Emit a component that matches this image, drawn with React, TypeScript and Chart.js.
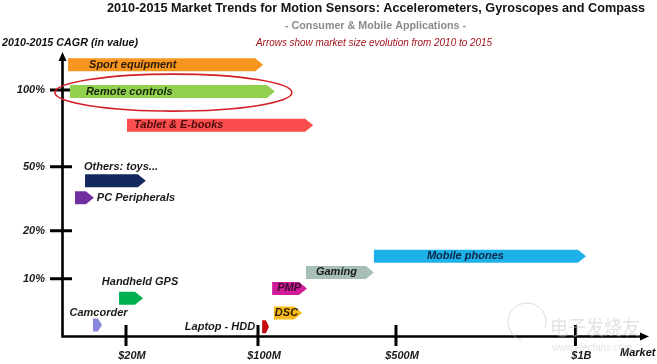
import React, { useEffect, useRef } from 'react';
import { Chart, registerables, LinearScale } from 'chart.js';

Chart.register(...registerables);

// ---------- data ----------
const categories = [
  'Sport equipment', 'Remote controls', 'Tablet & E-books', 'Others: toys...', 'PC Peripherals',
  'Mobile phones', 'Gaming', 'Handheld GPS', 'PMP', 'DSC', 'Camcorder', 'Laptop - HDD',
];
// market size in $M (2010 start -> 2015 end)
const market2010 = [1.6, 2.2, 20.6, 7.0, 3.8, 436, 239, 17.8, 141, 146, 9.5, 112];
const market2015 = [115, 149, 260, 32, 9.8, 1029, 436, 30.3, 242, 228, 12.4, 132];
// 2010-2015 CAGR in %
const cagr = [117, 99, 77, 43.4, 35.5, 14.7, 11.3, 6.6, 8.3, 4.0, 1.9, 1.6];

const xTickValues = [20, 100, 500, 1000];
const xTickLabels = ['$20M', '$100M', '$500M', '$1B'];
const yTickValues = [10, 20, 50, 100];
const yTickLabels = ['10%', '20%', '50%', '100%'];

const barColors = [
  '#f7961e', '#92d050', '#fb4d4d', '#13285c', '#7030a0',
  '#1cb1e8', '#a8bfb7', '#00b050', '#cf1c97', '#f7bb1e', '#8787dc', '#c40d0d',
];
const labelColors = [
  '#2a1a08', '#16260a', '#4a0c0c', '#1a1a1a', '#1a1a1a',
  '#0d2545', '#1a1a1a', '#1a1a1a', '#3a0a30', '#2a1a00', '#1a1a1a', '#1a1a1a',
];
const labelPlacement = ['in', 'in', 'in', 'aboveLeft', 'right', 'in', 'in', 'above', 'in', 'in', 'above', 'left'];
const labelDX = [21, 16, 7, -1, 3, 53, 10, 9, 5, 1, 1, 7];
const labelDY = [0, 0, 0, -14, 0, 0, 0, -16, 0, 0, -12, 0];

// scale break points (value -> fraction of axis)
const BREAKS: Record<string, { v: number[]; d: number[] }> = {
  x: { v: [0, 20, 100, 500, 1000, 1200], d: [0, 0.1077, 0.3333, 0.5692, 0.876, 1] },
  y: { v: [0, 10, 20, 50, 100, 125], d: [0, 0.2025, 0.372, 0.598, 0.869, 1] },
};

const FONT = "'Liberation Sans', Arial, Helvetica, sans-serif";

class PiecewiseScale extends LinearScale {
  static id = 'piecewise';
  static defaults = { ...(LinearScale as any).defaults };
  toDec(value: number) {
    const b = BREAKS[(this as any).axis];
    const { v, d } = b;
    if (value <= v[0]) return d[0];
    for (let i = 1; i < v.length; i++) {
      if (value <= v[i]) return d[i - 1] + ((value - v[i - 1]) / (v[i] - v[i - 1])) * (d[i] - d[i - 1]);
    }
    const n = v.length - 1;
    return d[n] + ((value - v[n]) / (v[n] - v[n - 1])) * (d[n] - d[n - 1]);
  }
  getPixelForValue(value: number) {
    if (value === null || value === undefined || isNaN(value)) return NaN;
    return (this as any).getPixelForDecimal(this.toDec(value));
  }
  getValueForPixel(pixel: number) {
    const dec = (this as any).getDecimalForPixel(pixel);
    const { v, d } = BREAKS[(this as any).axis];
    for (let i = 1; i < d.length; i++) {
      if (dec <= d[i]) return v[i - 1] + ((dec - d[i - 1]) / (d[i] - d[i - 1])) * (v[i] - v[i - 1]);
    }
    return v[v.length - 1];
  }
}
Chart.register(PiecewiseScale as any);

const decorPlugin = {
  id: 'decor',
  beforeDatasetsDraw(chart: any) {
    const ctx = chart.ctx;
    const { left, bottom } = chart.chartArea;
    const xs = chart.scales.x;
    const ys = chart.scales.y;
    ctx.save();
    ctx.strokeStyle = '#000';
    ctx.lineWidth = 3;
    ctx.beginPath();
    yTickValues.forEach((v) => {
      const py = ys.getPixelForValue(v);
      ctx.moveTo(left - 13, py);
      ctx.lineTo(left + 9, py);
    });
    xTickValues.forEach((v) => {
      const px = xs.getPixelForValue(v);
      ctx.moveTo(px, bottom - 11);
      ctx.lineTo(px, bottom + 10);
    });
    ctx.stroke();
    ctx.restore();
  },
  beforeDatasetDraw(chart: any, args: any) {
    const ctx = chart.ctx;
    const meta = args.meta;
    ctx.save();
    meta.data.forEach((el: any, i: number) => {
      const left = Math.min(el.base, el.x);
      const right = Math.max(el.base, el.x);
      const h = el.height;
      const top = el.y - h / 2;
      const bottom = el.y + h / 2;
      const tip = Math.min(8, (right - left) * 0.45);
      ctx.beginPath();
      ctx.moveTo(left, top);
      ctx.lineTo(right - tip, top);
      ctx.lineTo(right, el.y);
      ctx.lineTo(right - tip, bottom);
      ctx.lineTo(left, bottom);
      ctx.closePath();
      ctx.fillStyle = barColors[i];
      ctx.fill();
    });
    // labels
    ctx.font = `italic bold 11px ${FONT}`;
    ctx.textBaseline = 'middle';
    meta.data.forEach((el: any, i: number) => {
      const left = Math.min(el.base, el.x);
      const right = Math.max(el.base, el.x);
      const p = labelPlacement[i];
      ctx.fillStyle = labelColors[i];
      let x = 0;
      const y = el.y + labelDY[i];
      if (p === 'in') { ctx.textAlign = 'left'; x = left + labelDX[i]; }
      else if (p === 'aboveLeft') { ctx.textAlign = 'left'; x = left + labelDX[i]; }
      else if (p === 'above') { ctx.textAlign = 'center'; x = (left + right) / 2 + labelDX[i]; }
      else if (p === 'right') { ctx.textAlign = 'left'; x = right + labelDX[i]; }
      else { ctx.textAlign = 'right'; x = left - labelDX[i]; }
      ctx.fillText(categories[i], x, y);
    });
    ctx.restore();
    return false;
  },
  afterDraw(chart: any) {
    const ctx = chart.ctx;
    const { left, right, top, bottom } = chart.chartArea;
    ctx.save();
    ctx.strokeStyle = '#000';
    ctx.fillStyle = '#000';
    // axes
    ctx.lineWidth = 2.6;
    ctx.beginPath();
    ctx.moveTo(left - 0.5, bottom + 1.5);
    ctx.lineTo(left - 0.5, top + 6);
    ctx.moveTo(left - 1.5, bottom + 0.5);
    ctx.lineTo(right - 6, bottom + 0.5);
    ctx.stroke();
    // arrow heads
    ctx.beginPath();
    ctx.moveTo(left - 0.5, top - 1);
    ctx.lineTo(left - 4.5, top + 8);
    ctx.lineTo(left + 3.5, top + 8);
    ctx.closePath();
    ctx.fill();
    ctx.beginPath();
    ctx.moveTo(right + 1, bottom + 0.5);
    ctx.lineTo(right - 8, bottom - 3.5);
    ctx.lineTo(right - 8, bottom + 4.5);
    ctx.closePath();
    ctx.fill();

    // ellipse around Remote controls
    const meta = chart.getDatasetMeta(0);
    const rc = meta.data[1];
    if (rc) {
      const l = Math.min(rc.base, rc.x) - 15;
      const r = Math.max(rc.base, rc.x) + 17;
      ctx.beginPath();
      ctx.ellipse((l + r) / 2, rc.y + 1, (r - l) / 2, 18.5, 0, 0, Math.PI * 2);
      ctx.strokeStyle = '#d41f26';
      ctx.lineWidth = 1.6;
      ctx.stroke();
    }

    // titles
    ctx.textBaseline = 'middle';
    ctx.textAlign = 'center';
    ctx.fillStyle = '#111';
    ctx.font = `bold 13px ${FONT}`;
    ctx.fillText('2010-2015 Market Trends for Motion Sensors: Accelerometers, Gyroscopes and Compass', 376, 8.5, 538);
    ctx.fillStyle = '#8a8a8a';
    ctx.font = `bold 11px ${FONT}`;
    ctx.fillText('- Consumer & Mobile Applications -', 375.5, 25.5, 181);
    ctx.fillStyle = '#a3141c';
    ctx.font = `italic 11px ${FONT}`;
    ctx.fillText('Arrows show market size evolution from 2010 to 2015', 374, 42.5, 236);
    ctx.textAlign = 'left';
    ctx.fillStyle = '#111';
    ctx.font = `italic bold 11px ${FONT}`;
    ctx.fillText('2010-2015 CAGR (in value)', 2, 43, 136);
    ctx.fillText('Market', 620, 352.5, 36);

    // watermark
    ctx.globalAlpha = 0.5;
    ctx.strokeStyle = '#b8b8b8';
    ctx.lineWidth = 1;
    ctx.beginPath();
    ctx.arc(527, 322, 19, Math.PI * 0.6, Math.PI * 2.1);
    ctx.stroke();
    ctx.fillStyle = '#c8c8c8';
    ctx.font = `20px 'Noto Sans CJK SC', sans-serif`;
    ctx.textAlign = 'left';
    ctx.fillText('电子发烧友', 550, 327, 90);
    ctx.font = `10px ${FONT}`;
    ctx.fillText('www.elecfans.com', 552, 348, 80);
    ctx.restore();
  },
};

export default function App() {
  const ref = useRef<HTMLCanvasElement | null>(null);
  useEffect(() => {
    document.body.style.margin = '0';
    const canvas = ref.current;
    if (!canvas) return;
    const chart = new Chart(canvas, {
      type: 'bar',
      data: {
        labels: categories,
        datasets: [
          {
            label: 'Market size',
            data: categories.map((_, i) => ({ x: [market2010[i], market2015[i]], y: cagr[i] })) as any,
            backgroundColor: barColors,
            barThickness: 13,
          },
        ],
      },
      options: {
        indexAxis: 'y',
        animation: false,
        responsive: false,
        events: [],
        layout: { padding: { top: 53, right: 9, left: 0, bottom: 0 } },
        plugins: { legend: { display: false }, tooltip: { enabled: false }, title: { display: false } },
        scales: {
          x: {
            type: 'piecewise' as any,
            min: 0,
            max: 1200,
            grid: { display: false, drawTicks: false },
            border: { display: false },
            afterBuildTicks: (s: any) => { s.ticks = xTickValues.map((v) => ({ value: v })); },
            afterFit: (s: any) => { s.height = 28; s.paddingLeft = 0; s.paddingRight = 0; },
            ticks: {
              autoSkip: false,
              maxRotation: 0,
              padding: 13,
              labelOffset: 6,
              color: '#1a1a1a',
              font: { family: FONT, size: 11, style: 'italic', weight: 'bold' },
              callback: (v: any) => xTickLabels[xTickValues.indexOf(Number(v))] ?? '',
            },
          } as any,
          y: {
            type: 'piecewise' as any,
            min: 0,
            max: 125,
            grid: { display: false, drawTicks: false },
            border: { display: false },
            afterBuildTicks: (s: any) => { s.ticks = yTickValues.map((v) => ({ value: v })); },
            afterFit: (s: any) => { s.width = 63; s.paddingTop = 0; s.paddingBottom = 0; },
            ticks: {
              autoSkip: false,
              padding: 18,
              color: '#1a1a1a',
              font: { family: FONT, size: 11, style: 'italic', weight: 'bold' },
              callback: (v: any) => yTickLabels[yTickValues.indexOf(Number(v))] ?? '',
            },
          } as any,
        },
      },
      plugins: [decorPlugin as any],
    });
    return () => chart.destroy();
  }, []);
  return (
    <div style={{ width: 657, height: 364, background: '#fff' }}>
      <canvas ref={ref} width={657} height={364} style={{ display: 'block' }} />
    </div>
  );
}
